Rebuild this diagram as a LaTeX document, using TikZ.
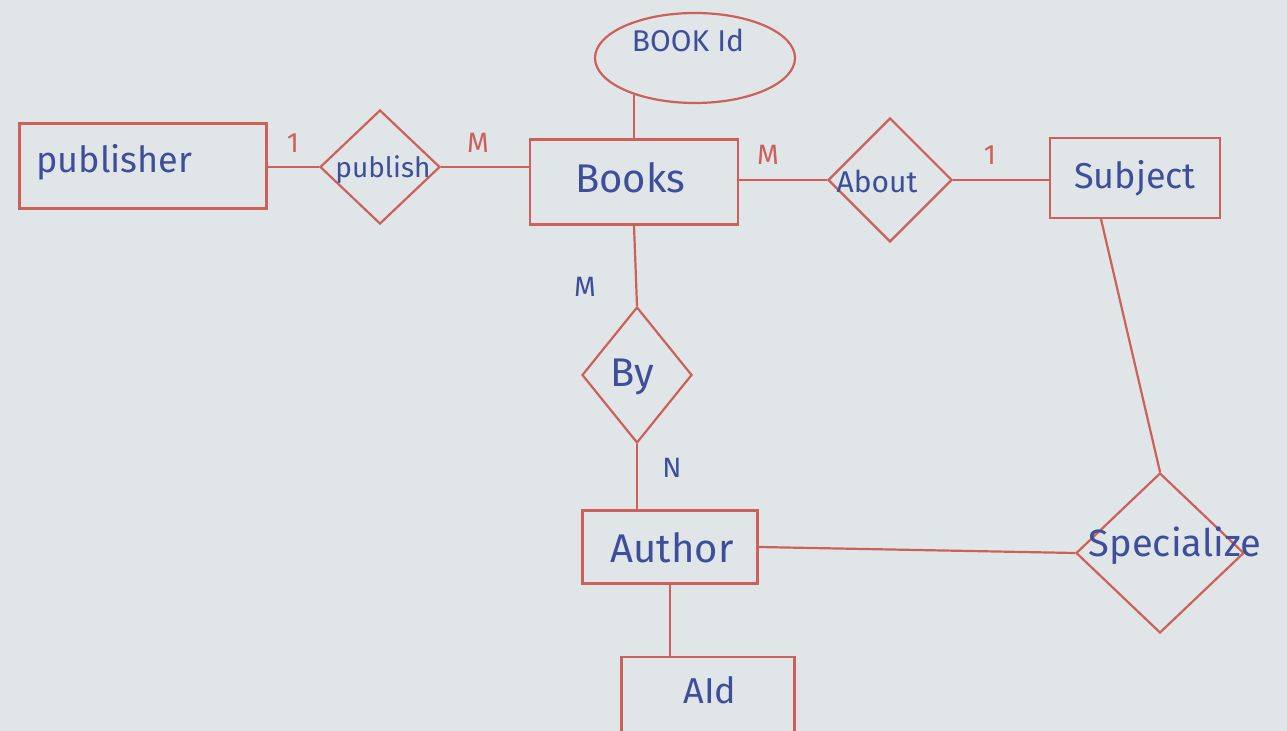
\documentclass[tikz,border=0pt]{standalone}
\usepackage{fontspec}
\setmainfont{Fira Sans}
\usetikzlibrary{shapes.geometric}
\definecolor{ink}{RGB}{206,96,90}
\definecolor{pen}{RGB}{62,78,155}
\definecolor{paper}{RGB}{224,229,232}
\begin{document}
\begin{tikzpicture}[x=0.5pt,y=-0.5pt,
  ent/.style={draw=ink, line width=1.1pt, rectangle, inner sep=0pt, text=pen, font=\fontsize{18}{21}\selectfont},
  rel/.style={draw=ink, line width=1.1pt, diamond, inner sep=0pt, text=pen, font=\fontsize{15}{18}\selectfont},
  attr/.style={draw=ink, line width=1.1pt, ellipse, inner sep=0pt},
  txt/.style={text=pen, inner sep=0pt},
  conn/.style={draw=ink, line width=1.1pt},
  card/.style={text=ink, inner sep=0pt, font=\fontsize{14}{16}\selectfont},
  cardb/.style={text=pen, inner sep=0pt, font=\fontsize{14}{16}\selectfont}]
\fill[paper] (0,0) rectangle (1287,731);
\useasboundingbox (0,0) rectangle (1287,731);

% entities
\node[ent, minimum width=123.5pt, minimum height=42.5pt] (publisher) at (143,166) {};
\node[txt, anchor=west, font=\fontsize{18}{20}\selectfont] (publishert) at (36,162) {publisher};
\node[ent, minimum width=104pt, minimum height=42.5pt] (books) at (634,182) {};
\node[txt, font=\fontsize{20}{22}\selectfont] (bookst) at (630,178) {Books};
\node[ent, minimum width=85pt, minimum height=40pt] (subject) at (1135,178) {Subject};
\node[ent, minimum width=87.5pt, minimum height=36.5pt] (author) at (670,547) {};
\node[txt, font=\fontsize{20}{22}\selectfont] (authort) at (672,548) {Author};
\node[ent, minimum width=86.5pt, minimum height=40pt] (aid) at (708,697) {};
\node[txt, font=\fontsize{18}{20}\selectfont] (aidt) at (710,690) {AId};

% attribute
\node[attr, minimum width=100pt, minimum height=45pt] (bid) at (695,58) {};
\node[txt, font=\fontsize{15}{17}\selectfont] (bidt) at (688,40) {BOOK Id};

% relationships
\node[rel, minimum width=60pt, minimum height=57pt] (pub) at (380,167) {};
\node[txt, font=\fontsize{14}{16}\selectfont] (pubt) at (383,170) {publish};
\node[rel, minimum width=62pt, minimum height=62pt] (about) at (890,180) {};
\node[txt, font=\fontsize{15}{17}\selectfont] (aboutt) at (877,181) {About};
\node[rel, minimum width=55pt, minimum height=68pt] (by) at (637,375) {};
\node[txt, font=\fontsize{20}{22}\selectfont] (byt) at (632,377) {By};
\node[rel, minimum width=84pt, minimum height=80pt] (spec) at (1160,553) {};
\node[txt, font=\fontsize{19}{21}\selectfont] (spect) at (1175,546) {Specialize};

% connectors
\draw[conn] (publisher.east |- pub.west) -- (pub.west);
\draw[conn] (pub.east) -- (pub.east -| books.west);
\draw[conn] (books.east |- about.west) -- (about.west);
\draw[conn] (about.east) -- (about.east -| subject.west);
\draw[conn] (books.north) -- ([yshift=4.5pt]books.north |- bid.south);
\draw[conn] (books.south) -- (by.north);
\draw[conn] (by.south) -- (by.south |- author.north);
\draw[conn] (author.south) -- (author.south |- aid.north);
\draw[conn] (author.east) -- (spec.west);
\draw[conn] ([xshift=-17pt]subject.south) -- (spec.north);

% cardinalities
\node[card] (c1) at (293,143) {1};
\node[card] (c2) at (478,143) {M};
\node[card] (c3) at (768,155) {M};
\node[card] (c4) at (990,155) {1};
\node[cardb] (c5) at (585,287) {M};
\node[cardb] (c6) at (672,468) {N};
\end{tikzpicture}
\end{document}
